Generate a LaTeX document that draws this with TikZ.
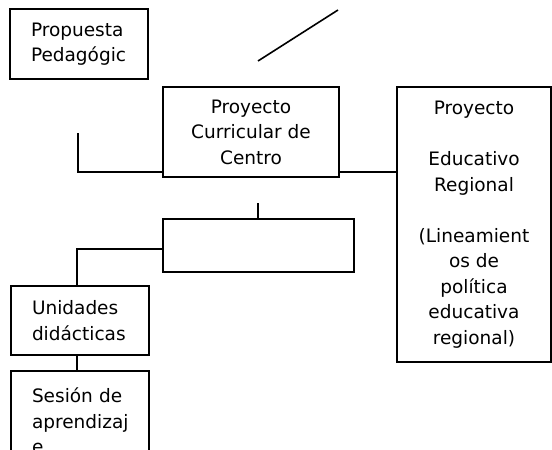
\documentclass[tikz,border=0pt]{standalone}
\usepackage{fontspec}
\setmainfont{DejaVu Sans}
\usetikzlibrary{positioning,calc}
\tikzset{caja/.style={draw,line width=1.6pt,inner sep=0pt,font=\fontsize{18.5}{25.5}\selectfont},
  izq/.style={caja,align=left,text width=96pt,minimum width=138pt},
  lin/.style={line width=1.6pt}}

\begin{document}
\begin{tikzpicture}[x=1pt,y=-1pt]
\clip (0,0) rectangle (552,450);
\fill[white] (0,0) rectangle (552,450);
\node[izq,minimum height=70pt] (pp) at (79,44) {Propuesta\\Pedagógic};
\node[caja,align=center,minimum width=176pt,minimum height=90pt] (pcc) at (251,132) {Proyecto\\Curricular de\\Centro};
\node[caja,align=center,minimum width=154pt,minimum height=275pt] (per) at (474,224.5)
  {Proyecto\\[25.5pt]Educativo\\Regional\\[25.5pt](Lineamient\\os de\\política\\educativa\\regional)};
\node[caja,minimum width=191pt,minimum height=53pt] (vac) at (258.5,245.5) {};
\node[izq,minimum height=69pt] (ud) at (80,320.5) {Unidades\\didácticas};
\node[izq,minimum height=100pt] (ses) at (80,421) {Sesión de\\aprendizaj\\e};
\coordinate (d1) at (258,61);
\coordinate (d2) at (338,10);
\coordinate (l1) at (78,133);
\coordinate (s1) at (258,203);
\draw[lin] (d1) -- (d2);
\draw[lin] (l1) |- ([yshift=6pt]pcc.south west);
\draw[lin] ([yshift=6pt]pcc.south east) coordinate (r1) -- (r1 -| per.west);
\draw[lin] (s1) -- (s1 |- vac.north);
\draw[lin] ([yshift=-3.5pt]vac.west) -| ([xshift=-3pt]ud.north);
\draw[lin] ([xshift=-3pt]ud.south) -- ([xshift=-3pt]ses.north);
\end{tikzpicture}
\end{document}
